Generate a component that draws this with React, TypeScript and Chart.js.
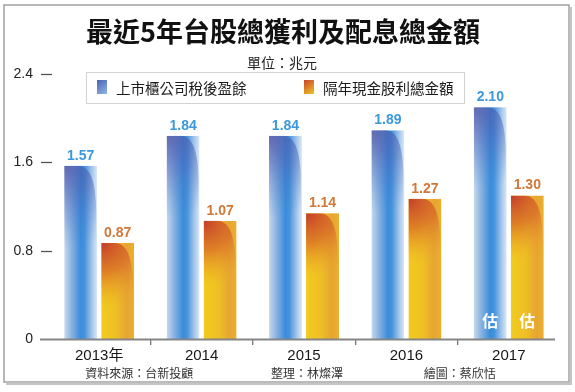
import React, { useEffect, useRef } from 'react';
import { Chart, registerables } from 'chart.js';

Chart.register(...registerables);

// ---- data ----
const categories = ['2013年', '2014', '2015', '2016', '2017'];
const earnings = [1.57, 1.84, 1.84, 1.89, 2.1];
const dividends = [0.87, 1.07, 1.14, 1.27, 1.3];
const yTicks = [0, 0.8, 1.6, 2.4];
const seriesNames = ['上市櫃公司稅後盈餘', '隔年現金股利總金額'];
const estimateIndex = 4;
const estimateMark = '估';
const titleText = '最近5年台股總獲利及配息總金額';
const unitText = '單位：兆元';
const credits = ['資料來源：台新投顧', '整理：林燦澤', '繪圖：蔡欣恬'];
const creditAnchors = [0.39, 2.03, 3.52];

const CJK = '"Noto Sans CJK TC", "Noto Sans CJK SC", sans-serif';
const LAT = '"Liberation Sans", Arial, "Noto Sans CJK TC", sans-serif';

function drawBlueBar(ctx: CanvasRenderingContext2D, x0: number, x1: number, top: number, bottom: number) {
  const w = x1 - x0;
  const h = bottom - top;
  if (h <= 0) return;
  ctx.save();
  ctx.beginPath();
  ctx.rect(x0, top, w, h);
  ctx.clip();
  const g = ctx.createLinearGradient(x0, 0, x1, 0);
  g.addColorStop(0, '#c8d9ee');
  g.addColorStop(0.22, '#8ab3e1');
  g.addColorStop(0.5, '#3a8cdb');
  g.addColorStop(0.62, '#4693dc');
  g.addColorStop(0.85, '#a8c8eb');
  g.addColorStop(1, '#dce9f6');
  ctx.fillStyle = g;
  ctx.fillRect(x0, top, w, h);
  ctx.beginPath();
  ctx.moveTo(x0, top);
  ctx.lineTo(x0 + 0.42 * w, top);
  ctx.bezierCurveTo(x0 + 0.82 * w, top, x0 + 0.97 * w, top + 0.55 * w, x0 + 0.97 * w, top + 1.5 * w);
  ctx.lineTo(x0 + 0.97 * w, bottom);
  ctx.lineTo(x0, bottom);
  ctx.closePath();
  const r = ctx.createRadialGradient(x0, top, 0, x0, top, 2.5 * w);
  r.addColorStop(0, 'rgba(82,86,168,0.85)');
  r.addColorStop(0.45, 'rgba(72,100,184,0.45)');
  r.addColorStop(1, 'rgba(60,130,210,0)');
  ctx.fillStyle = r;
  ctx.fill();
  ctx.restore();
}

function drawOrangeBar(ctx: CanvasRenderingContext2D, x0: number, x1: number, top: number, bottom: number) {
  const w = x1 - x0;
  const h = bottom - top;
  if (h <= 0) return;
  ctx.save();
  ctx.beginPath();
  ctx.rect(x0, top, w, h);
  ctx.clip();
  const g = ctx.createLinearGradient(x0, 0, x1, 0);
  g.addColorStop(0, '#f3cb1d');
  g.addColorStop(0.45, '#eebf25');
  g.addColorStop(0.78, '#e6a531');
  g.addColorStop(1, '#eab02e');
  ctx.fillStyle = g;
  ctx.fillRect(x0, top, w, h);
  ctx.beginPath();
  ctx.moveTo(x0, top);
  ctx.lineTo(x0 + 0.42 * w, top);
  ctx.bezierCurveTo(x0 + 0.82 * w, top, x0 + 0.97 * w, top + 0.55 * w, x0 + 0.97 * w, top + 1.5 * w);
  ctx.lineTo(x0 + 0.97 * w, bottom);
  ctx.lineTo(x0, bottom);
  ctx.closePath();
  const r = ctx.createRadialGradient(x0, top, 0, x0, top, 2.0 * w);
  r.addColorStop(0, 'rgba(196,60,42,1)');
  r.addColorStop(0.45, 'rgba(214,98,40,0.7)');
  r.addColorStop(1, 'rgba(236,165,40,0)');
  ctx.fillStyle = r;
  ctx.fill();
  ctx.restore();
}

const customPlugin = {
  id: 'customDraw',
  beforeDraw(chart: any) {
    const ctx: CanvasRenderingContext2D = chart.ctx;
    const W = chart.width;
    ctx.save();
    // frame
    ctx.fillStyle = '#ffffff';
    ctx.fillRect(0, 0, W, chart.height);
    ctx.strokeStyle = '#a0a0a0';
    ctx.lineWidth = 1.5;
    ctx.strokeRect(4, 5, 565, 377);
    ctx.fillStyle = '#c4c4c4';
    ctx.fillRect(569.5, 7, 2.5, 378);
    ctx.fillRect(6, 382.5, 566, 2.5);
    // title
    ctx.fillStyle = '#111';
    ctx.textAlign = 'center';
    ctx.textBaseline = 'middle';
    ctx.font = `bold 27px ${CJK}`;
    ctx.fillText(titleText, 283, 32);
    ctx.font = `14px ${CJK}`;
    ctx.fillStyle = '#222';
    ctx.fillText(unitText, 282, 63);
    // legend box
    ctx.fillStyle = '#fff';
    ctx.fillRect(86.5, 72.5, 378, 31);
    ctx.strokeStyle = '#d2d2d2';
    ctx.lineWidth = 1;
    ctx.strokeRect(86.5, 72.5, 378, 31);
    const sw = [
      { x: 97, colors: ['#4a62b4', '#8fb6e6'] },
      { x: 304, colors: ['#c8442a', '#f0c424'] },
    ];
    sw.forEach((s, i) => {
      const lg = ctx.createLinearGradient(s.x, 80, s.x + 10, 94);
      lg.addColorStop(0, s.colors[0]);
      lg.addColorStop(1, s.colors[1]);
      ctx.fillStyle = lg;
      ctx.fillRect(s.x, 80, 10, 14);
      ctx.fillStyle = '#1a1a1a';
      ctx.font = `14.5px ${CJK}`;
      ctx.textAlign = 'left';
      ctx.textBaseline = 'middle';
      ctx.fillText(seriesNames[i], s.x + 19, 88);
    });
    ctx.restore();
  },
  afterDatasetsDraw(chart: any) {
    const ctx: CanvasRenderingContext2D = chart.ctx;
    const area = chart.chartArea;
    const yScale = chart.scales.y;
    const xScale = chart.scales.x;
    ctx.save();
    // y tick dashes
    ctx.strokeStyle = '#555';
    ctx.lineWidth = 1.3;
    yTicks.forEach((v) => {
      if (v === 0) return;
      const py = Math.round(yScale.getPixelForValue(v)) + 0.5;
      ctx.beginPath();
      ctx.moveTo(area.left - 7, py);
      ctx.lineTo(area.left + 4, py);
      ctx.stroke();
    });
    // bars
    chart.data.datasets.forEach((ds: any, di: number) => {
      const meta = chart.getDatasetMeta(di);
      meta.data.forEach((el: any, i: number) => {
        const p = el.getProps(['x', 'y', 'width', 'base'], true);
        const x0 = p.x - p.width / 2;
        const x1 = p.x + p.width / 2;
        if (di === 0) drawBlueBar(ctx, x0, x1, p.y, p.base);
        else drawOrangeBar(ctx, x0, x1, p.y, p.base);
        ctx.font = `bold 14px ${LAT}`;
        ctx.textAlign = 'center';
        ctx.textBaseline = 'alphabetic';
        ctx.fillStyle = di === 0 ? '#3a98dc' : '#d17738';
        ctx.fillText(Number(ds.data[i]).toFixed(2), p.x, p.y - 6);
        if (i === estimateIndex) {
          ctx.font = `bold 16px ${CJK}`;
          ctx.fillStyle = '#ffffff';
          ctx.textBaseline = 'middle';
          ctx.fillText(estimateMark, p.x, p.base - 18);
        }
      });
    });
    // x axis line
    const by = Math.round(area.bottom) + 0.5;
    ctx.strokeStyle = '#858585';
    ctx.lineWidth = 2;
    ctx.beginPath();
    ctx.moveTo(area.left - 8, by);
    ctx.lineTo(area.right - 5, by);
    ctx.stroke();
    // credits
    ctx.font = `12px ${CJK}`;
    ctx.fillStyle = '#333';
    ctx.textAlign = 'center';
    ctx.textBaseline = 'middle';
    credits.forEach((c, i) => {
      ctx.fillText(c, xScale.getPixelForValue(creditAnchors[i]), 373);
    });
    ctx.restore();
  },
};

export default function App() {
  const ref = useRef<HTMLCanvasElement | null>(null);
  useEffect(() => {
    if (!ref.current) return;
    const chart = new Chart(ref.current, {
      type: 'bar',
      data: {
        labels: categories,
        datasets: [
          { label: seriesNames[0], data: earnings, backgroundColor: 'rgba(0,0,0,0)', borderWidth: 0 },
          { label: seriesNames[1], data: dividends, backgroundColor: 'rgba(0,0,0,0)', borderWidth: 0 },
        ],
      },
      options: {
        animation: false,
        responsive: false,
        maintainAspectRatio: false,
        devicePixelRatio: 1,
        datasets: { bar: { categoryPercentage: 0.723, barPercentage: 0.89 } },
        layout: { padding: { left: 8, right: 15, top: 74, bottom: 0 } },
        plugins: { legend: { display: false }, title: { display: false }, tooltip: { enabled: false } },
        scales: {
          x: {
            offset: true,
            border: { display: false },
            grid: {
              offset: true,
              drawOnChartArea: false,
              drawTicks: true,
              tickLength: 6,
              lineWidth: 1.3,
              color: (c: any) => (c.type === 'tick' && c.index > 0 ? '#777' : 'rgba(0,0,0,0)'),
            },
            ticks: { color: '#161616', font: { family: LAT, size: 15 }, padding: 2, maxRotation: 0 },
            afterFit: (s: any) => { s.height = 53; },
          },
          y: {
            min: 0,
            max: 2.4,
            border: { display: false },
            grid: { display: false, drawTicks: false },
            afterBuildTicks: (s: any) => { s.ticks = yTicks.map((v) => ({ value: v })); },
            ticks: {
              color: '#222',
              padding: 15,
              font: { family: LAT, size: 14 },
              callback: (v: any) => (Number(v) === 0 ? '0' : Number(v).toFixed(1)),
            },
            afterFit: (s: any) => { s.width = 40; },
          },
        },
      },
      plugins: [customPlugin],
    });
    return () => chart.destroy();
  }, []);
  return (
    <div style={{ position: 'fixed', left: 0, top: 0, width: 575, height: 392, background: '#fff' }}>
      <canvas ref={ref} width={575} height={392} style={{ width: 575, height: 392, display: 'block' }} />
    </div>
  );
}
